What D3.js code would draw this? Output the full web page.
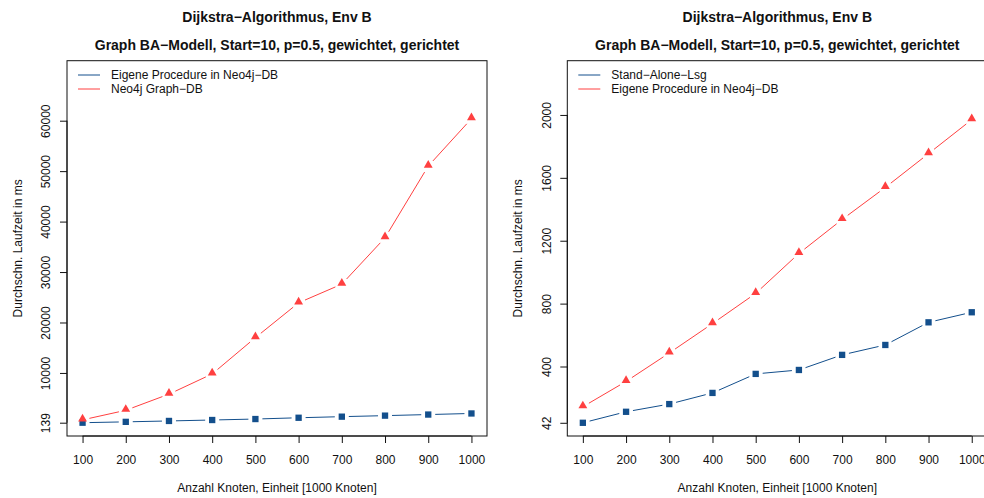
<!DOCTYPE html>
<html>
<head>
<meta charset="utf-8">
<script src="https://cdn.jsdelivr.net/npm/d3@7"></script>
<style>
  html, body { margin: 0; padding: 0; background: #fff; }
  svg { display: block; font-family: "Liberation Sans", Arial, Helvetica, sans-serif; }
</style>
</head>
<body>
<svg id="chart" width="984" height="498"></svg>
<script>
// Node counts (in units of 1000 nodes)
const knoten = [100, 200, 300, 400, 500, 600, 700, 800, 900, 1000];

// Left panel: mean runtime in ms
const eigeneProcedure = [139, 305, 486, 673, 865, 1119, 1335, 1539, 1754, 1970];
const neo4jGraphDB = [700, 2600, 5800, 9800, 17000, 23900, 27600, 36800, 51000, 60400];

// Right panel: mean runtime in ms
const standAlone = [42, 112, 161, 232, 353, 378, 474, 537, 681, 745];
const eigeneProcedureR = [144, 305, 486, 673, 865, 1119, 1335, 1539, 1754, 1970];

// Tick labels
const xTicks = [100, 200, 300, 400, 500, 600, 700, 800, 900, 1000];
const yTicksLeft = [139, 10000, 20000, 30000, 40000, 50000, 60000];
const yTicksRight = [42, 400, 800, 1200, 1600, 2000];

const title1 = "Dijkstra\u2212Algorithmus, Env B";
const title2 = "Graph BA\u2212Modell, Start=10, p=0.5, gewichtet, gerichtet";
const xLabel = "Anzahl Knoten, Einheit [1000 Knoten]";
const yLabel = "Durchschn. Laufzeit in ms";

const BLUE = "#134f8c";
const RED = "#ff4040";
const INK = "#111";
const FS = 12;

const svg = d3.select("#chart");

function panel(opts) {
  const g = svg.append("g").attr("transform", `translate(${opts.x0},0)`);
  const left = 67, right = 487, top = 60.7, bottom = 436;

  const x = d3.scaleLinear().domain([64, 1036]).range([left, right]);
  const y = d3.scaleLinear().domain(opts.yDomain).range([bottom, top]);

  // titles
  g.append("text").attr("x", (left + right) / 2).attr("y", 22)
    .attr("text-anchor", "middle").attr("font-weight", "bold")
    .attr("font-size", 14).attr("fill", INK).text(title1);
  g.append("text").attr("x", (left + right) / 2).attr("y", 50)
    .attr("text-anchor", "middle").attr("font-weight", "bold")
    .attr("font-size", 14).attr("fill", INK).text(title2);

  // plot frame
  g.append("rect").attr("x", left).attr("y", top)
    .attr("width", right - left).attr("height", bottom - top)
    .attr("fill", "none").attr("stroke", INK).attr("stroke-width", 1);

  // x axis
  const xa = g.append("g").attr("transform", `translate(0,${bottom})`)
    .call(d3.axisBottom(x).tickValues(xTicks).tickSizeOuter(0).tickSize(7).tickPadding(12).tickFormat(d3.format("d")));
  xa.select(".domain").attr("d", `M${x(xTicks[0])},0H${x(xTicks[xTicks.length - 1])}`).attr("stroke", INK);
  xa.selectAll(".tick line").attr("stroke", INK);
  xa.selectAll(".tick text").attr("font-size", FS).attr("fill", INK)
    .attr("font-family", "Liberation Sans, Arial, sans-serif");

  // y axis with rotated labels
  const ya = g.append("g").attr("transform", `translate(${left},0)`)
    .call(d3.axisLeft(y).tickValues(opts.yTicks).tickSizeOuter(0).tickSize(7).tickFormat(d3.format("d")));
  const yt = opts.yTicks;
  ya.select(".domain").attr("d", `M0,${y(yt[0])}V${y(yt[yt.length - 1])}`).attr("stroke", INK);
  ya.selectAll(".tick line").attr("stroke", INK);
  ya.selectAll(".tick text")
    .attr("font-size", FS).attr("fill", INK)
    .attr("font-family", "Liberation Sans, Arial, sans-serif")
    .attr("x", null)
    .attr("text-anchor", "middle")
    .attr("transform", "translate(-21,0) rotate(-90)")
    .attr("y", 0).attr("dy", "0.35em");

  // axis labels
  g.append("text").attr("x", (left + right) / 2).attr("y", 492)
    .attr("text-anchor", "middle").attr("font-size", FS).attr("fill", INK).text(xLabel);
  g.append("text").attr("transform", `translate(22,${(top + bottom) / 2}) rotate(-90)`)
    .attr("text-anchor", "middle").attr("font-size", FS).attr("fill", INK).text(yLabel);

  // series: lines broken around each point, then markers
  const gap = 7;
  opts.series.forEach(s => {
    const pts = knoten.map((k, i) => [x(k), y(s.values[i])]);
    const segs = [];
    for (let i = 0; i < pts.length - 1; i++) {
      const [x1, y1] = pts[i], [x2, y2] = pts[i + 1];
      const len = Math.hypot(x2 - x1, y2 - y1);
      if (len <= 2 * gap) continue;
      const ux = (x2 - x1) / len, uy = (y2 - y1) / len;
      segs.push([[x1 + ux * gap, y1 + uy * gap], [x2 - ux * gap, y2 - uy * gap]]);
    }
    g.append("g").selectAll("line").data(segs).join("line")
      .attr("x1", d => d[0][0]).attr("y1", d => d[0][1])
      .attr("x2", d => d[1][0]).attr("y2", d => d[1][1])
      .attr("stroke", s.color).attr("stroke-width", 1);

    const sym = d3.symbol().type(s.shape === "square" ? d3.symbolSquare : d3.symbolTriangle)
      .size(s.shape === "square" ? 40 : 34);
    g.append("g").selectAll("path").data(pts).join("path")
      .attr("transform", d => `translate(${d[0]},${d[1] + (s.shape === "square" ? 0 : -1)})`)
      .attr("d", sym).attr("fill", s.color);
  });

  // legend
  opts.series.forEach((s, i) => {
    const ly = 75 + i * 14;
    g.append("line").attr("x1", 78).attr("x2", 100).attr("y1", ly).attr("y2", ly)
      .attr("stroke", s.color).attr("stroke-width", 1);
    g.append("text").attr("x", 111).attr("y", ly).attr("dy", "0.35em")
      .attr("font-size", FS).attr("fill", INK).text(s.name);
  });
}

panel({
  x0: 0,
  yDomain: [-2497, 71890],
  yTicks: yTicksLeft,
  series: [
    { name: "Eigene Procedure in Neo4j\u2212DB", values: eigeneProcedure, color: BLUE, shape: "square" },
    { name: "Neo4j Graph\u2212DB", values: neo4jGraphDB, color: RED, shape: "triangle" }
  ]
});

panel({
  x0: 500.3,
  yDomain: [-42, 2345],
  yTicks: yTicksRight,
  series: [
    { name: "Stand\u2212Alone\u2212Lsg", values: standAlone, color: BLUE, shape: "square" },
    { name: "Eigene Procedure in Neo4j\u2212DB", values: eigeneProcedureR, color: RED, shape: "triangle" }
  ]
});
</script>
</body>
</html>
